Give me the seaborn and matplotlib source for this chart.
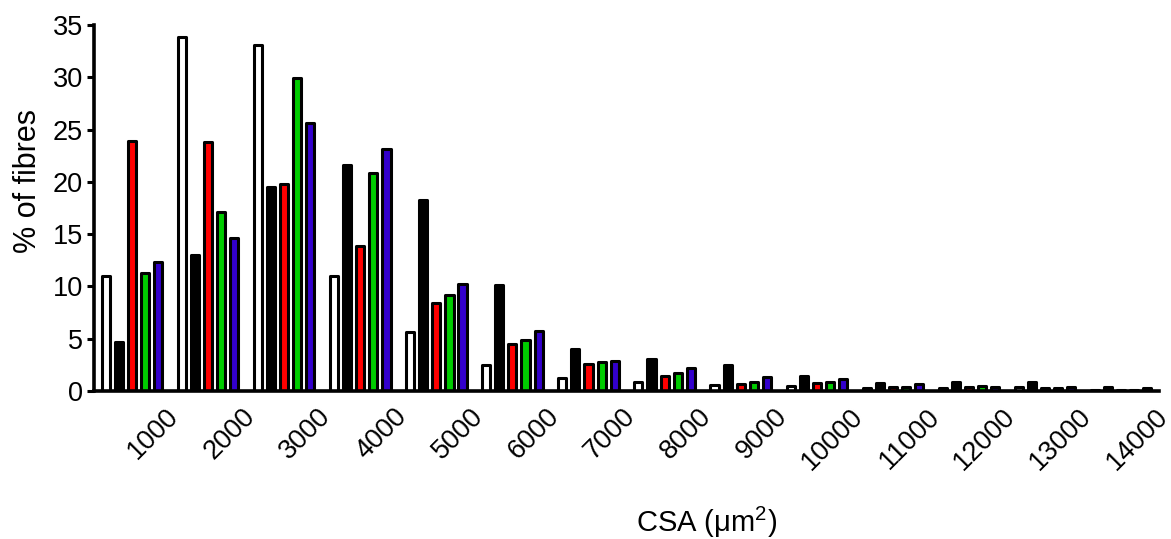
import numpy as np
import pandas as pd
import matplotlib
matplotlib.use("Agg")
import matplotlib.pyplot as plt
import seaborn as sns

# ---- data ----
bins = ["1000", "2000", "3000", "4000", "5000", "6000", "7000",
        "8000", "9000", "10000", "11000", "12000", "13000", "14000"]
series_names = ["white", "black", "red", "green", "blue"]
white = [11.0, 33.9, 33.1, 11.0, 5.6, 2.5, 1.2, 0.9, 0.55, 0.5, 0.3, 0.25, 0.4, 0.05]
black = [4.7, 13.0, 19.5, 21.6, 18.3, 10.1, 4.0, 3.05, 2.5, 1.45, 0.8, 0.9, 0.85, 0.4]
red = [23.9, 23.8, 19.8, 13.9, 8.4, 4.5, 2.55, 1.45, 0.65, 0.8, 0.35, 0.35, 0.3, 0.05]
green = [11.25, 17.1, 29.9, 20.8, 9.2, 4.9, 2.8, 1.75, 0.85, 0.9, 0.35, 0.45, 0.3, 0.05]
blue = [12.3, 14.6, 25.6, 23.1, 10.2, 5.7, 2.9, 2.2, 1.3, 1.15, 0.65, 0.4, 0.4, 0.25]
colors = ["#FFFFFF", "#000000", "#FF0000", "#00CC00", "#3300CC"]
yticks = [0, 5, 10, 15, 20, 25, 30, 35]

values = [white, black, red, green, blue]
df = pd.DataFrame({
    "bin": np.tile(bins, len(series_names)),
    "series": np.repeat(series_names, len(bins)),
    "pct": np.concatenate(values),
})

sns.set_theme(style="ticks")
plt.rcParams["font.family"] = ["Liberation Sans", "DejaVu Sans"]
plt.rcParams["mathtext.default"] = "regular"
for k in ["text.color", "axes.labelcolor", "xtick.color", "ytick.color", "axes.edgecolor"]:
    plt.rcParams[k] = "black"

fig = plt.figure(figsize=(11.71, 5.39), dpi=100)
ax = fig.add_axes([0.0803, 0.2746, 0.9095, 0.679])

sns.barplot(data=df, x="bin", y="pct", hue="series", order=bins,
            hue_order=series_names, palette=colors, saturation=1,
            width=0.86, gap=0.38, edgecolor="black", linewidth=2.2,
            legend=False, ax=ax)
for p in ax.patches:
    p.set_joinstyle("round")

ax.set_xlim(-0.5, len(bins) - 0.5)
ax.set_ylim(0, 35)
ax.set_yticks(yticks)
ax.set_yticklabels([str(t) for t in yticks], fontsize=19.5)
ax.set_xticks(np.arange(len(bins)) + 0.44)
ax.set_xticklabels(bins, fontsize=19.5, rotation=45, ha="right", va="top",
                   rotation_mode="anchor")
ax.tick_params(axis="x", length=0, pad=9)
ax.tick_params(axis="y", length=5, width=2.2, pad=3, direction="out")

for s in ["top", "right"]:
    ax.spines[s].set_visible(False)
for s in ["left", "bottom"]:
    ax.spines[s].set_linewidth(2.6)
    ax.spines[s].set_color("black")

ax.set_ylabel("% of fibres", fontsize=22)
ax.yaxis.set_label_coords(-0.048, 0.574)
ax.set_xlabel("CSA (μm$^2$)", fontsize=21)
ax.xaxis.set_label_coords(0.575, -0.311)

fig.savefig("out.png", dpi=100)
